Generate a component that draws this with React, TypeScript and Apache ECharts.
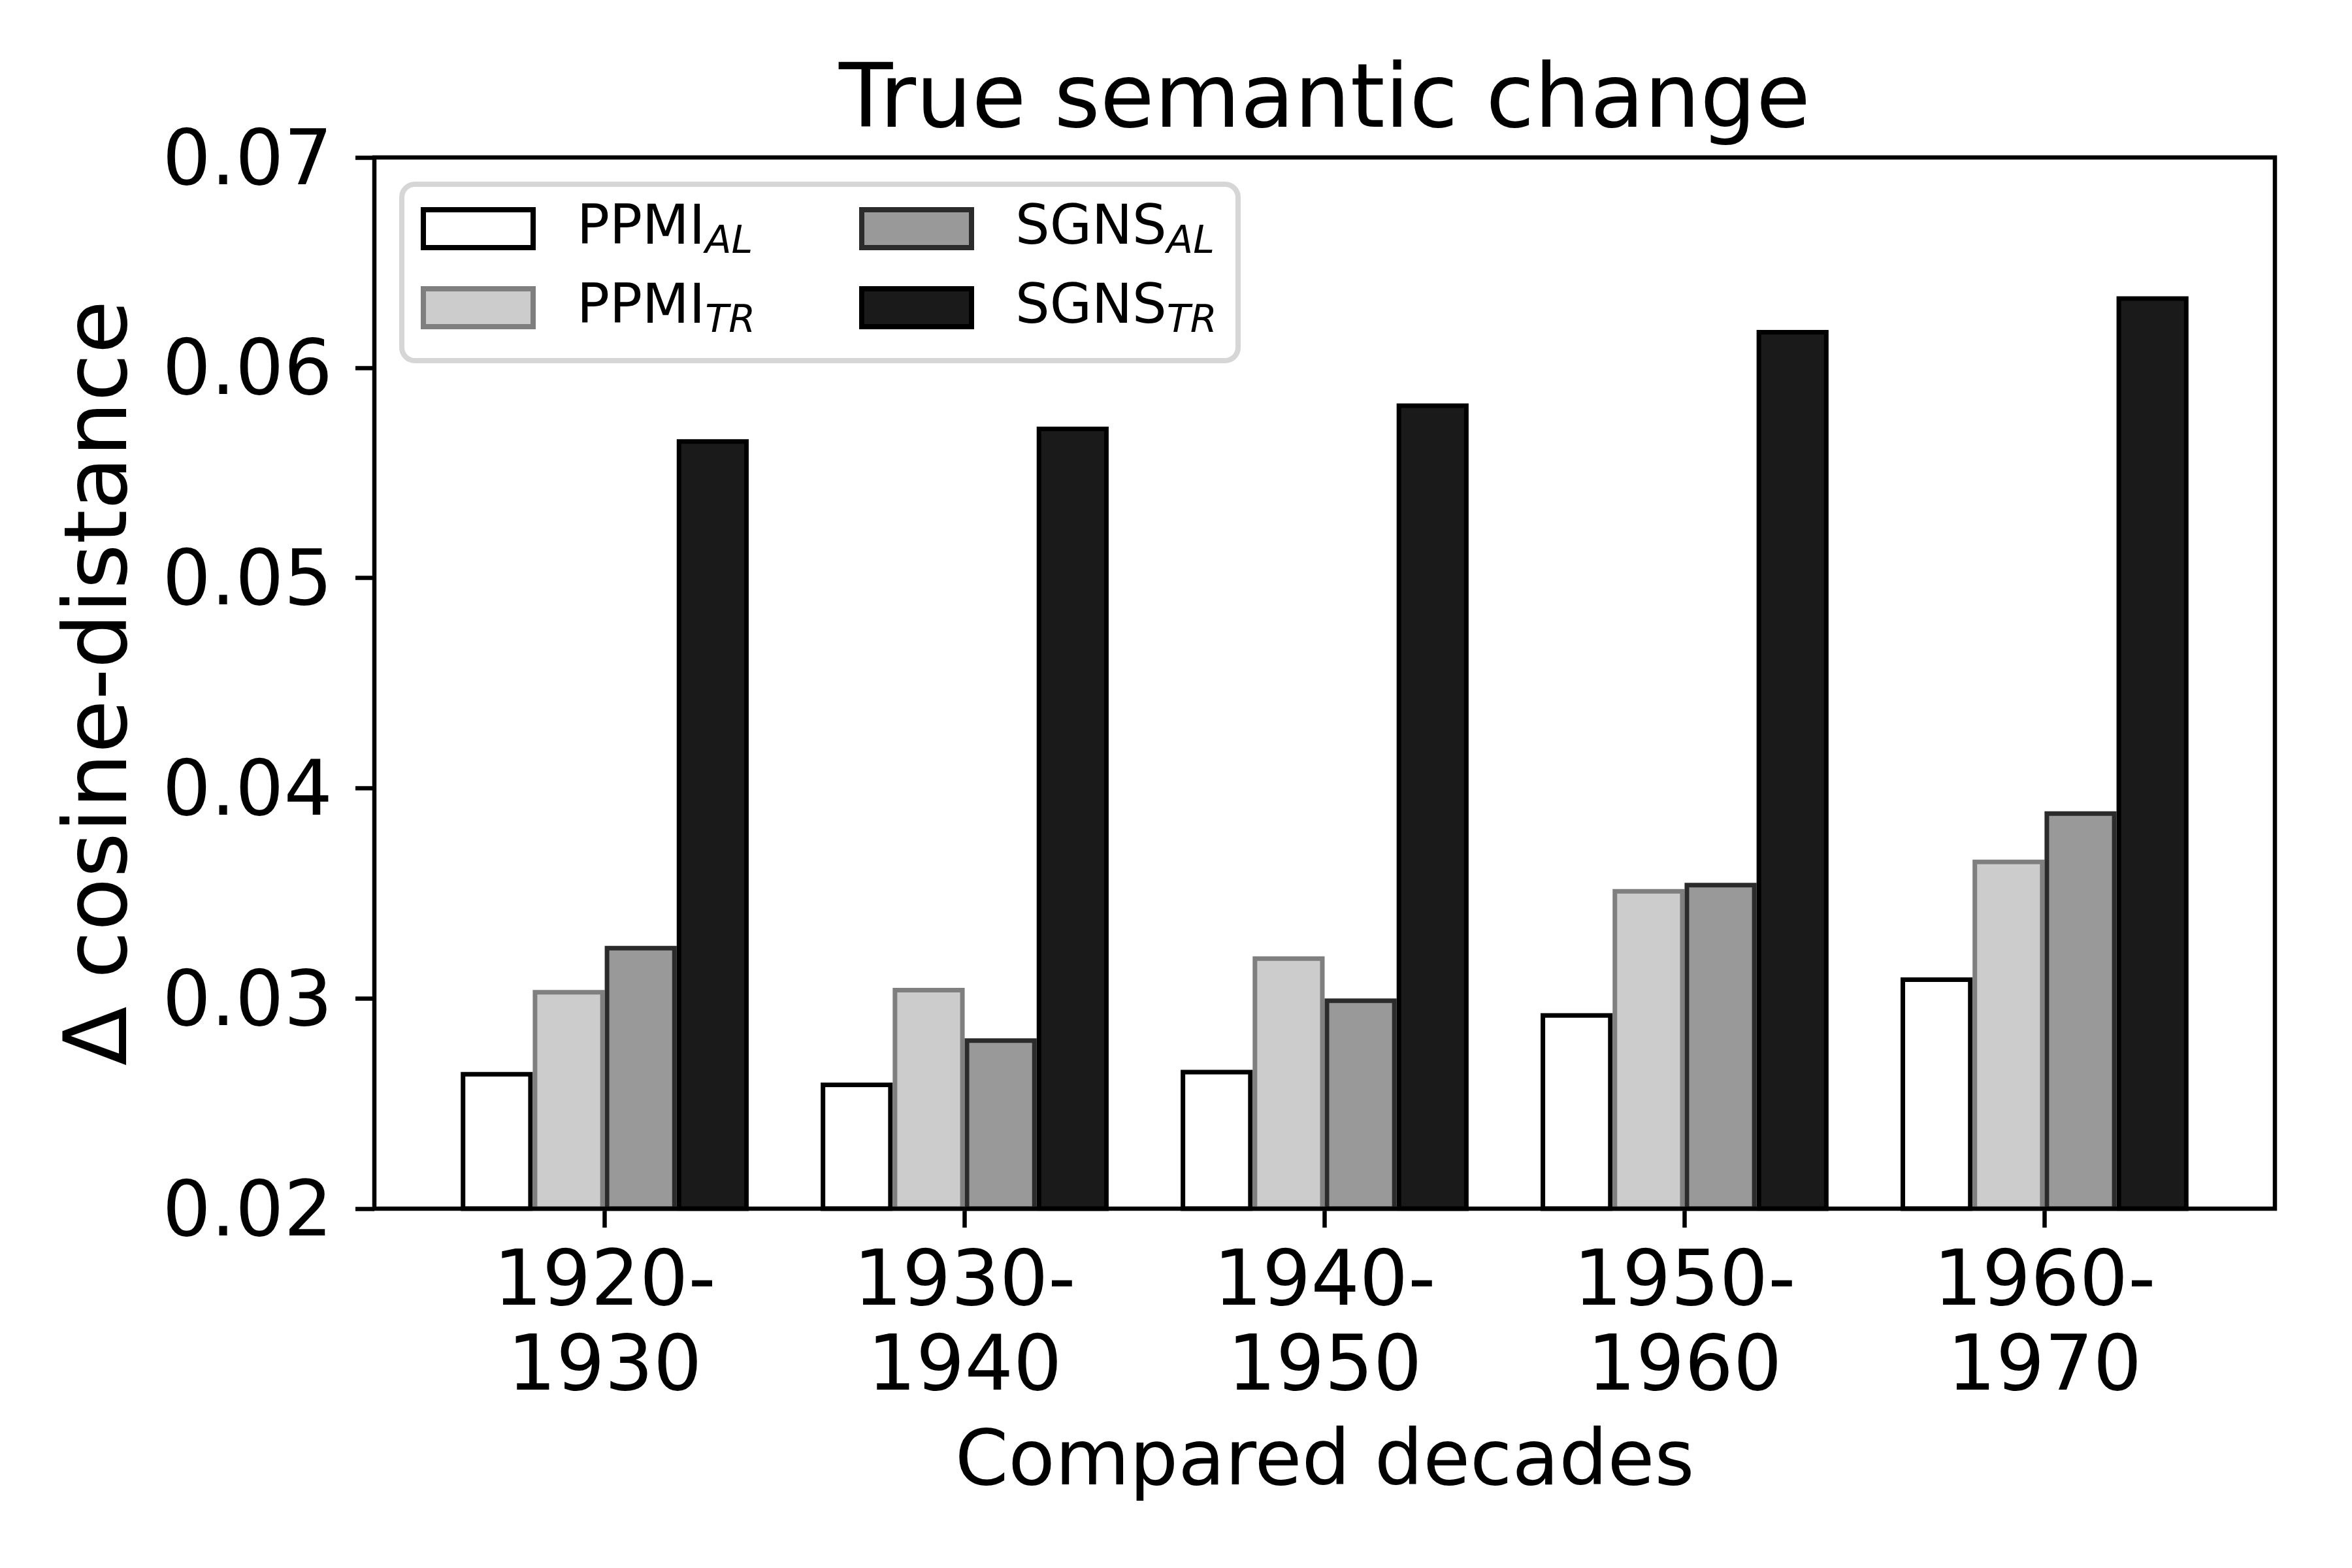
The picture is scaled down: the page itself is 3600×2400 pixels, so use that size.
import React, { useEffect, useRef } from "react";
import * as echarts from "echarts";

const categories = ["1920-\n1930", "1930-\n1940", "1940-\n1950", "1950-\n1960", "1960-\n1970"];
const ppmiAL = [0.0265, 0.026, 0.0266, 0.0293, 0.031];
const ppmiTR = [0.0304, 0.0305, 0.032, 0.0352, 0.0366];
const sgnsAL = [0.0325, 0.0281, 0.03, 0.0355, 0.0389];
const sgnsTR = [0.0566, 0.0572, 0.0583, 0.0618, 0.0634];
const yTicks = { min: 0.02, max: 0.07, interval: 0.01 };
const legendLabels: Record<string, [string, string]> = {
  PPMI_AL: ["PPMI", "AL"],
  PPMI_TR: ["PPMI", "TR"],
  SGNS_AL: ["SGNS", "AL"],
  SGNS_TR: ["SGNS", "TR"],
};

const FONT = "DejaVu Sans";

export default function App() {
  const ref = useRef<HTMLDivElement>(null);
  useEffect(() => {
    if (!ref.current) return;
    const chart = echarts.init(ref.current, null, { renderer: "svg" });
    const plotL = 573, plotT = 241, plotW = 2909, plotH = 1609;
    const unit = plotW / 5.28;
    const bandL = plotL + 0.64 * unit - unit / 2;
    const bandW = unit * 5;

    const rich = {
      m: { fontSize: 83, height: 83, lineHeight: 94, verticalAlign: "top", padding: [0, 0, 0, 62], fontFamily: FONT, color: "#000" },
      s: { fontSize: 59, height: 59, lineHeight: 94, verticalAlign: "top", padding: [34, 0, 0, 0], fontStyle: "italic", fontFamily: FONT, color: "#000" },
    };
    const legendCommon = {
      orient: "vertical",
      icon: "rect",
      itemWidth: 168,
      itemHeight: 58,
      itemGap: 28,
      padding: 0,
      selectedMode: false,
      itemStyle: { borderWidth: 8 },
      formatter: (name: string) => `{m|${legendLabels[name][0]}}{s|${legendLabels[name][1]}}`,
      textStyle: { rich, fontFamily: FONT, color: "#000" },
      z: 10,
    };

    const mk = (name: string, data: number[], fill: string, edge: string) => ({
      name,
      type: "bar",
      xAxisIndex: 1,
      yAxisIndex: 1,
      data,
      barWidth: "20%",
      barGap: "0%",
      itemStyle: { color: fill, borderColor: edge, borderWidth: 7 },
    });

    chart.setOption({
      animation: false,
      backgroundColor: "#fff",
      title: {
        text: "True semantic change",
        left: plotL + plotW / 2,
        top: 147,
        textAlign: "center",
        textVerticalAlign: "middle",
        padding: 0,
        textStyle: { fontFamily: FONT, fontSize: 135, fontWeight: "normal", color: "#000" },
      },
      grid: [
        { left: plotL, top: plotT, width: plotW, height: plotH, show: true, borderColor: "#000", borderWidth: 6.5, backgroundColor: "transparent", containLabel: false, z: 5 },
        { left: bandL, top: plotT, width: bandW, height: plotH, containLabel: false },
      ],
      xAxis: [
        { type: "value", gridIndex: 0, min: 0, max: 1, show: false },
        {
          type: "category",
          gridIndex: 1,
          data: categories,
          axisLine: { show: false },
          axisTick: { show: true, alignWithLabel: true, length: 29, lineStyle: { color: "#000", width: 6.5 } },
          axisLabel: { margin: 41, fontSize: 117, lineHeight: 130, fontFamily: FONT, color: "#000", align: "center" },
          splitLine: { show: false },
        },
      ],
      yAxis: [
        {
          type: "value",
          gridIndex: 0,
          min: yTicks.min,
          max: yTicks.max,
          interval: yTicks.interval,
          axisLine: { show: false },
          axisTick: { show: true, length: 29, lineStyle: { color: "#000", width: 6.5 } },
          axisLabel: { margin: 64, fontSize: 117, fontFamily: FONT, color: "#000", formatter: (v: number) => v.toFixed(2) },
          splitLine: { show: false },
        },
        { type: "value", gridIndex: 1, min: yTicks.min, max: yTicks.max, interval: yTicks.interval, show: false, splitLine: { show: false } },
      ],
      legend: [
        { ...legendCommon, data: ["PPMI_AL", "PPMI_TR"], left: 644, top: 303 },
        { ...legendCommon, data: ["SGNS_AL", "SGNS_TR"], left: 1315, top: 303 },
      ],
      graphic: [
        {
          type: "rect",
          z: 1,
          shape: { x: 615, y: 282, width: 1280, height: 270, r: 20 },
          style: { fill: "#fff", stroke: "#d6d6d6", lineWidth: 8 },
        },
        {
          type: "text",
          x: 147,
          y: plotT + plotH / 2,
          rotation: Math.PI / 2,
          style: { text: "Δ cosine-distance", fontFamily: FONT, fontSize: 133, fill: "#000", align: "center", verticalAlign: "middle" },
        },
        {
          type: "text",
          x: plotL + plotW / 2,
          y: 2231,
          style: { text: "Compared decades", fontFamily: FONT, fontSize: 117, fill: "#000", align: "center", verticalAlign: "middle" },
        },
      ],
      series: [
        mk("PPMI_AL", ppmiAL, "#ffffff", "#000000"),
        mk("PPMI_TR", ppmiTR, "#cccccc", "#7f7f7f"),
        mk("SGNS_AL", sgnsAL, "#999999", "#2b2b2b"),
        mk("SGNS_TR", sgnsTR, "#1a1a1a", "#000000"),
      ],
    });
    return () => chart.dispose();
  }, []);
  return <div ref={ref} style={{ position: "absolute", left: 0, top: 0, width: 3600, height: 2400 }} />;
}
